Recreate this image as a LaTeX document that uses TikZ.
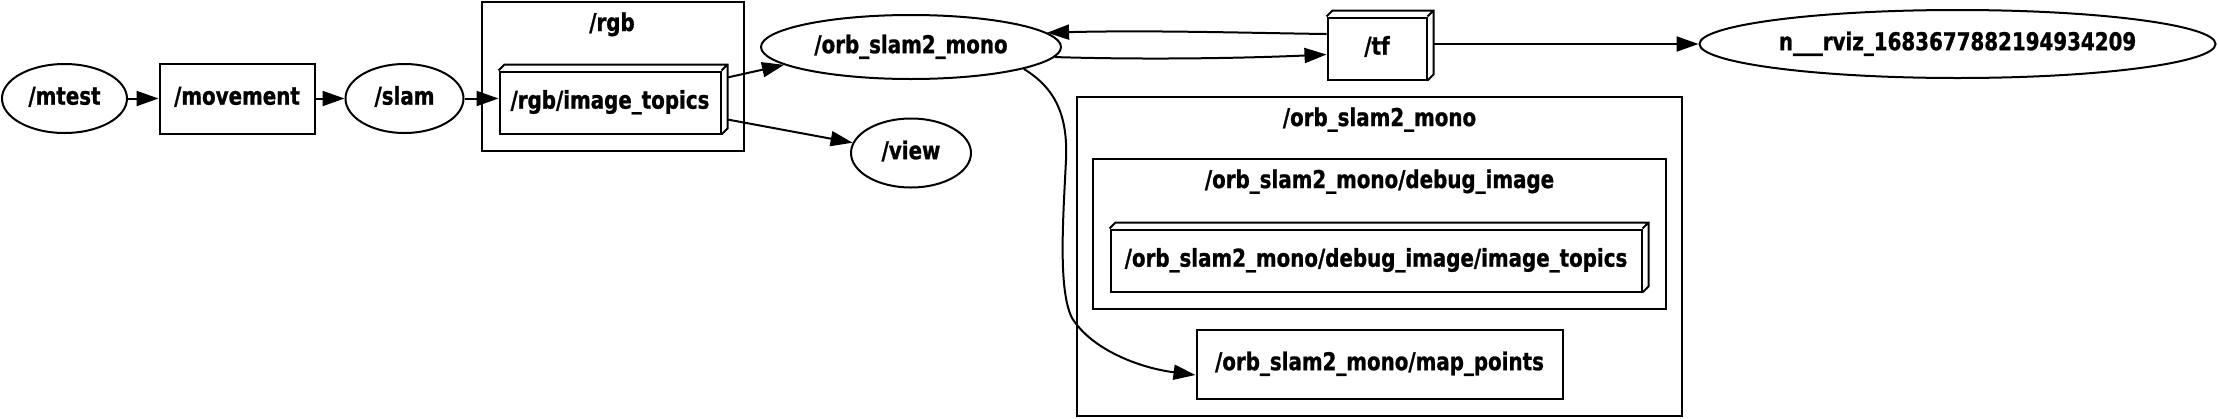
\documentclass[tikz,border=0pt]{standalone}
\usepackage{fontspec}
\newfontfamily\lblfont{DejaVu Sans}[FakeStretch=0.81,FakeBold=1]
\usetikzlibrary{arrows.meta,shapes.geometric}
\newcommand\bxthd[2]{\draw[ln] (#1.north west) -- ++(#2,-#2) -- ([shift={(#2,-#2)}]#1.north east) -- ([shift={(#2,-#2)}]#1.south east) -- (#1.south east) (#1.north east) -- ++(#2,-#2);}
\begin{document}
\begin{tikzpicture}[x=1pt,y=-1pt,
  every node/.style={font=\lblfont\bfseries\fontsize{24.5}{29}\selectfont, inner sep=0pt, text height=18.4pt, text depth=6.1pt},
  ln/.style={line width=2pt},
  ell/.style={ln, draw, ellipse},
  rbox/.style={ln, draw, rectangle},
  arr/.style={ln, -{Triangle[length=22pt,width=15pt]}},
  cluster/.style={ln, draw}]
\useasboundingbox (0,0) rectangle (2218,418);
% clusters
\draw[cluster] (482,1.5) rectangle (744,151);
\node[anchor=base] (lrgb) at (612,31) {/rgb};
\draw[cluster] (1077,97) rectangle (1682,416);
\node[anchor=base] (lorb) at (1379.5,126) {/orb\_slam2\_mono};
\draw[cluster] (1093,159) rectangle (1666,309);
\node[anchor=base] (ldbg) at (1379.5,188) {/orb\_slam2\_mono/debug\_image};
% nodes
\node[ell, minimum width=125pt, minimum height=69pt] (mtest) at (64.5,98.5) {/mtest};
\node[rbox, minimum width=155pt, minimum height=70pt] (movement) at (237,98.5) {/movement};
\node[ell, minimum width=118pt, minimum height=69pt] (slam) at (404.5,98.5) {/slam};
\node[rbox, minimum width=221pt, minimum height=62pt] (rgbt) at (610,102.5) {/rgb/image\_topics};
\bxthd{rgbt}{6}
\node[ell, minimum width=300pt, minimum height=64pt] (orb) at (911,47) {/orb\_slam2\_mono};
\node[ell, minimum width=120pt, minimum height=69pt] (view) at (911,153) {/view};
\node[rbox, minimum width=99pt, minimum height=62pt] (tf) at (1377,48.5) {/tf};
\bxthd{tf}{6}
\node[ell, minimum width=516pt, minimum height=68pt] (rviz) at (1957.5,44) {n\_\_\_rviz\_1683677882194934209};
\node[rbox, minimum width=531pt, minimum height=62pt] (dbg) at (1376,260.5) {/orb\_slam2\_mono/debug\_image/image\_topics};
\bxthd{dbg}{6}
\node[rbox, minimum width=366pt, minimum height=69pt] (map) at (1379.5,364) {/orb\_slam2\_mono/map\_points};
% edges
\draw[arr] (mtest) -- (movement);
\draw[arr] (movement) -- (slam);
\draw[arr] (slam.east) -- (slam.east -| rgbt.west);
\draw[arr] ([shift={(6,-25)}]rgbt.east) -- (orb.188);
\draw[arr] ([shift={(6,17)}]rgbt.east) -- (view.170);
\draw[arr] (orb.-4.5) .. controls (1150,60) and (1250,58) .. ([shift={(0,6)}]tf.west);
\draw[arr] ([shift={(0,-14.5)}]tf.west) .. controls (1250,33) and (1150,30) .. (orb.6);
\draw[arr] ([shift={(6,0)}]tf.east |- rviz.west) -- (rviz.west);
\draw[arr] (orb.-11) .. controls (1055,88) and (1068,115) .. (1066,160)
  .. controls (1063,220) and (1058,290) .. (1072,318)
  .. controls (1092,350) and (1140,368) .. ([shift={(0,11)}]map.west);
\end{tikzpicture}
\end{document}
